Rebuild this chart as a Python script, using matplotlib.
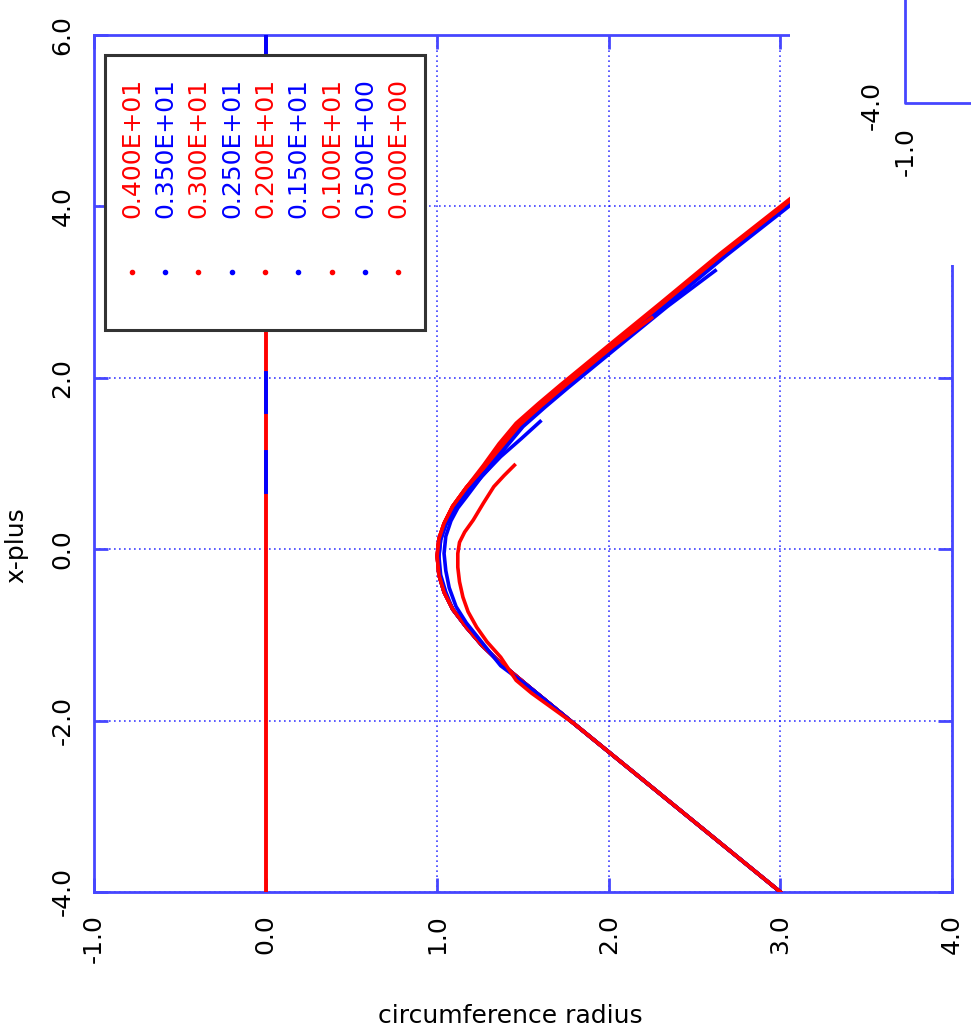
import numpy as np
import matplotlib.pyplot as plt
from matplotlib.patches import Rectangle
from matplotlib.lines import Line2D

# 图例标签和颜色
times = ["0.400E+01", "0.350E+01", "0.300E+01", "0.250E+01", "0.200E+01",
         "0.150E+01", "0.100E+01", "0.500E+00", "0.000E+00"]
colors = ["red", "blue", "red", "blue", "red", "blue", "red", "blue", "red"]

# 各时刻曲线 (circumference radius, x-plus)
r_40 = [3.00, 2.70, 2.40, 2.10, 1.80, 1.55, 1.37, 1.26, 1.17, 1.09, 1.04, 1.01, 1.00, 1.01, 1.04, 1.09, 1.17, 1.27, 1.36, 1.46, 1.59, 1.72, 2.00, 2.30, 2.65, 3.00, 3.35]
x_40 = [-4.00, -3.51, -3.02, -2.53, -2.04, -1.63, -1.33, -1.12, -0.91, -0.70, -0.50, -0.30, -0.08, 0.12, 0.30, 0.50, 0.72, 0.98, 1.23, 1.47, 1.70, 1.92, 2.38, 2.87, 3.45, 4.00, 4.55]
r_35 = [3.00, 2.70, 2.40, 2.10, 1.80, 1.55, 1.37, 1.26, 1.17, 1.09, 1.04, 1.01, 1.00, 1.01, 1.05, 1.10, 1.18, 1.29, 1.38, 1.48, 1.61, 1.74, 2.02, 2.32, 2.67, 3.02, 3.35]
x_35 = [-4.00, -3.51, -3.02, -2.53, -2.04, -1.63, -1.33, -1.12, -0.91, -0.70, -0.50, -0.30, -0.08, 0.11, 0.29, 0.48, 0.70, 0.96, 1.21, 1.45, 1.68, 1.90, 2.36, 2.85, 3.43, 3.98, 4.50]
r_30 = [3.00, 2.70, 2.40, 2.10, 1.80, 1.55, 1.37, 1.26, 1.17, 1.09, 1.04, 1.01, 1.00, 1.01, 1.04, 1.09, 1.17, 1.28, 1.37, 1.47, 1.60, 1.73, 2.01, 2.31, 2.66, 3.01, 3.35]
x_30 = [-4.00, -3.51, -3.02, -2.53, -2.04, -1.63, -1.33, -1.12, -0.91, -0.70, -0.50, -0.30, -0.08, 0.12, 0.30, 0.50, 0.72, 0.98, 1.22, 1.46, 1.69, 1.91, 2.37, 2.86, 3.44, 3.99, 4.52]
r_25 = [3.00, 2.70, 2.40, 2.10, 1.80, 1.55, 1.37, 1.26, 1.17, 1.09, 1.04, 1.01, 1.01, 1.02, 1.05, 1.10, 1.19, 1.30, 1.39, 1.49, 1.62, 1.75, 2.03, 2.33, 2.68, 3.03, 3.35]
x_25 = [-4.00, -3.51, -3.02, -2.53, -2.04, -1.63, -1.33, -1.12, -0.91, -0.70, -0.50, -0.30, -0.08, 0.11, 0.29, 0.48, 0.70, 0.95, 1.20, 1.44, 1.67, 1.89, 2.35, 2.84, 3.42, 3.97, 4.48]
r_20 = [3.00, 2.70, 2.40, 2.10, 1.80, 1.55, 1.37, 1.26, 1.17, 1.09, 1.04, 1.01, 1.00, 1.01, 1.04, 1.09, 1.17, 1.28, 1.37, 1.47, 1.60, 1.73, 2.01, 2.31, 2.66, 3.01]
x_20 = [-4.00, -3.51, -3.02, -2.53, -2.04, -1.63, -1.33, -1.12, -0.91, -0.70, -0.50, -0.30, -0.08, 0.12, 0.30, 0.50, 0.72, 0.97, 1.22, 1.46, 1.69, 1.91, 2.37, 2.86, 3.44, 3.99]
r_15 = [3.00, 2.70, 2.40, 2.10, 1.80, 1.55, 1.37, 1.26, 1.17, 1.09, 1.05, 1.02, 1.01, 1.02, 1.05, 1.11, 1.19, 1.30, 1.40, 1.50, 1.63, 1.76, 2.04, 2.34, 2.62]
x_15 = [-4.00, -3.51, -3.02, -2.53, -2.04, -1.63, -1.33, -1.12, -0.91, -0.70, -0.50, -0.30, -0.08, 0.11, 0.29, 0.48, 0.69, 0.94, 1.19, 1.43, 1.66, 1.88, 2.34, 2.83, 3.25]
r_10 = [3.00, 2.70, 2.40, 2.10, 1.80, 1.55, 1.37, 1.26, 1.17, 1.09, 1.04, 1.01, 1.00, 1.01, 1.04, 1.09, 1.17, 1.28, 1.38, 1.48, 1.61, 1.74, 2.02, 2.25]
x_10 = [-4.00, -3.51, -3.02, -2.53, -2.04, -1.63, -1.33, -1.12, -0.91, -0.70, -0.50, -0.30, -0.08, 0.12, 0.30, 0.50, 0.72, 0.97, 1.21, 1.45, 1.68, 1.90, 2.36, 2.70]
r_05 = [3.00, 2.70, 2.40, 2.10, 1.80, 1.55, 1.37, 1.25, 1.17, 1.11, 1.07, 1.05, 1.04, 1.05, 1.08, 1.12, 1.17, 1.26, 1.37, 1.49, 1.60]
x_05 = [-4.00, -3.51, -3.02, -2.53, -2.04, -1.63, -1.36, -1.06, -0.86, -0.67, -0.45, -0.25, -0.05, 0.15, 0.33, 0.48, 0.61, 0.85, 1.08, 1.29, 1.49]
r_00 = [3.00, 2.70, 2.40, 2.10, 1.80, 1.55, 1.46, 1.37, 1.29, 1.23, 1.18, 1.15, 1.13, 1.12, 1.12, 1.13, 1.16, 1.21, 1.27, 1.33, 1.39, 1.45]
x_00 = [-4.00, -3.51, -3.02, -2.53, -2.04, -1.68, -1.53, -1.26, -1.08, -0.91, -0.73, -0.56, -0.38, -0.21, -0.05, 0.08, 0.20, 0.34, 0.54, 0.73, 0.86, 0.98]

# r = 0 轴上的点
axis_red = [-4.0, 6.0]
axis_blue = [(0.67, 1.13), (1.60, 2.06), (5.75, 6.0)]

r_list = [r_40, r_35, r_30, r_25, r_20, r_15, r_10, r_05, r_00]
x_list = [x_40, x_35, x_30, x_25, x_20, x_15, x_10, x_05, x_00]

W, H = 971, 1035
def fx(px):
    return px / W
def fy(py):
    return 1 - py / H

edge = '#4646ff'
fig = plt.figure(figsize=(W / 100, H / 100), dpi=100)
ax = fig.add_axes([fx(94), fy(892), fx(952) - fx(94), fy(35) - fy(892)])

ax.plot([0, 0], axis_red, color='red', lw=2.8, zorder=3)
for a, b in axis_blue:
    ax.plot([0, 0], [a, b], color='blue', lw=2.8, zorder=3)
for r, x, c in zip(r_list, x_list, colors):
    ax.plot(r, x, color=c, lw=2.6, zorder=3, solid_joinstyle='round')

ax.set_xlim(-1, 4)
ax.set_ylim(-4, 6)
xt = np.arange(-1, 4.5, 1.0)
yt = np.arange(-4, 6.5, 2.0)
ax.set_xticks(xt)
ax.set_yticks(yt)
ax.set_xticklabels([f"{v:.1f}" for v in xt], rotation=90, va='top', ha='center')
ax.set_yticklabels([f"{v:.1f}" for v in yt], rotation=90, va='center', ha='right')
ax.tick_params(direction='in', length=10, width=2, color=edge, top=True, right=True,
               labelsize=18)
ax.tick_params(axis='x', pad=16)
ax.tick_params(axis='y', pad=14)
ax.grid(True, color='blue', ls=(0, (1, 2)), lw=1.2, alpha=0.75)
for s in ax.spines.values():
    s.set_color(edge)
    s.set_linewidth(2)

fig.text(fx(510), fy(1016), "circumference radius", fontsize=18, ha='center', va='center')
fig.text(fx(16), fy(545), "x-plus", fontsize=18, rotation=90, ha='center', va='center')

# 图例框
fig.patches.append(Rectangle((fx(105), fy(330)), fx(425) - fx(105), fy(55) - fy(330),
                             transform=fig.transFigure, facecolor='white',
                             edgecolor='#333333', lw=2.2, zorder=5))
col_x = [132, 165, 198, 232, 265, 298, 332, 365, 398]
for cx, lab, c in zip(col_x, times, colors):
    fig.text(fx(cx), fy(218), lab, color=c, fontsize=18, rotation=90,
             ha='center', va='bottom', zorder=7)
    fig.add_artist(Line2D([fx(cx)], [fy(272)], marker='o', ms=3, color=c,
                          transform=fig.transFigure, zorder=7))

# 右上角被另一张图遮住的部分
fig.patches.append(Rectangle((fx(790), fy(265)), fx(W) - fx(790), fy(0) - fy(265),
                             transform=fig.transFigure, facecolor='white',
                             edgecolor='none', zorder=4))
fig.add_artist(Line2D([fx(905), fx(905), fx(W)], [fy(0), fy(103), fy(103)],
                      color=edge, lw=2, transform=fig.transFigure, zorder=6))
fig.text(fx(872), fy(105), "-4.0", fontsize=18, rotation=90, ha='center', va='center', zorder=7)
fig.text(fx(906), fy(152), "-1.0", fontsize=18, rotation=90, ha='center', va='center', zorder=7)

fig.savefig("out.png", dpi=100)
